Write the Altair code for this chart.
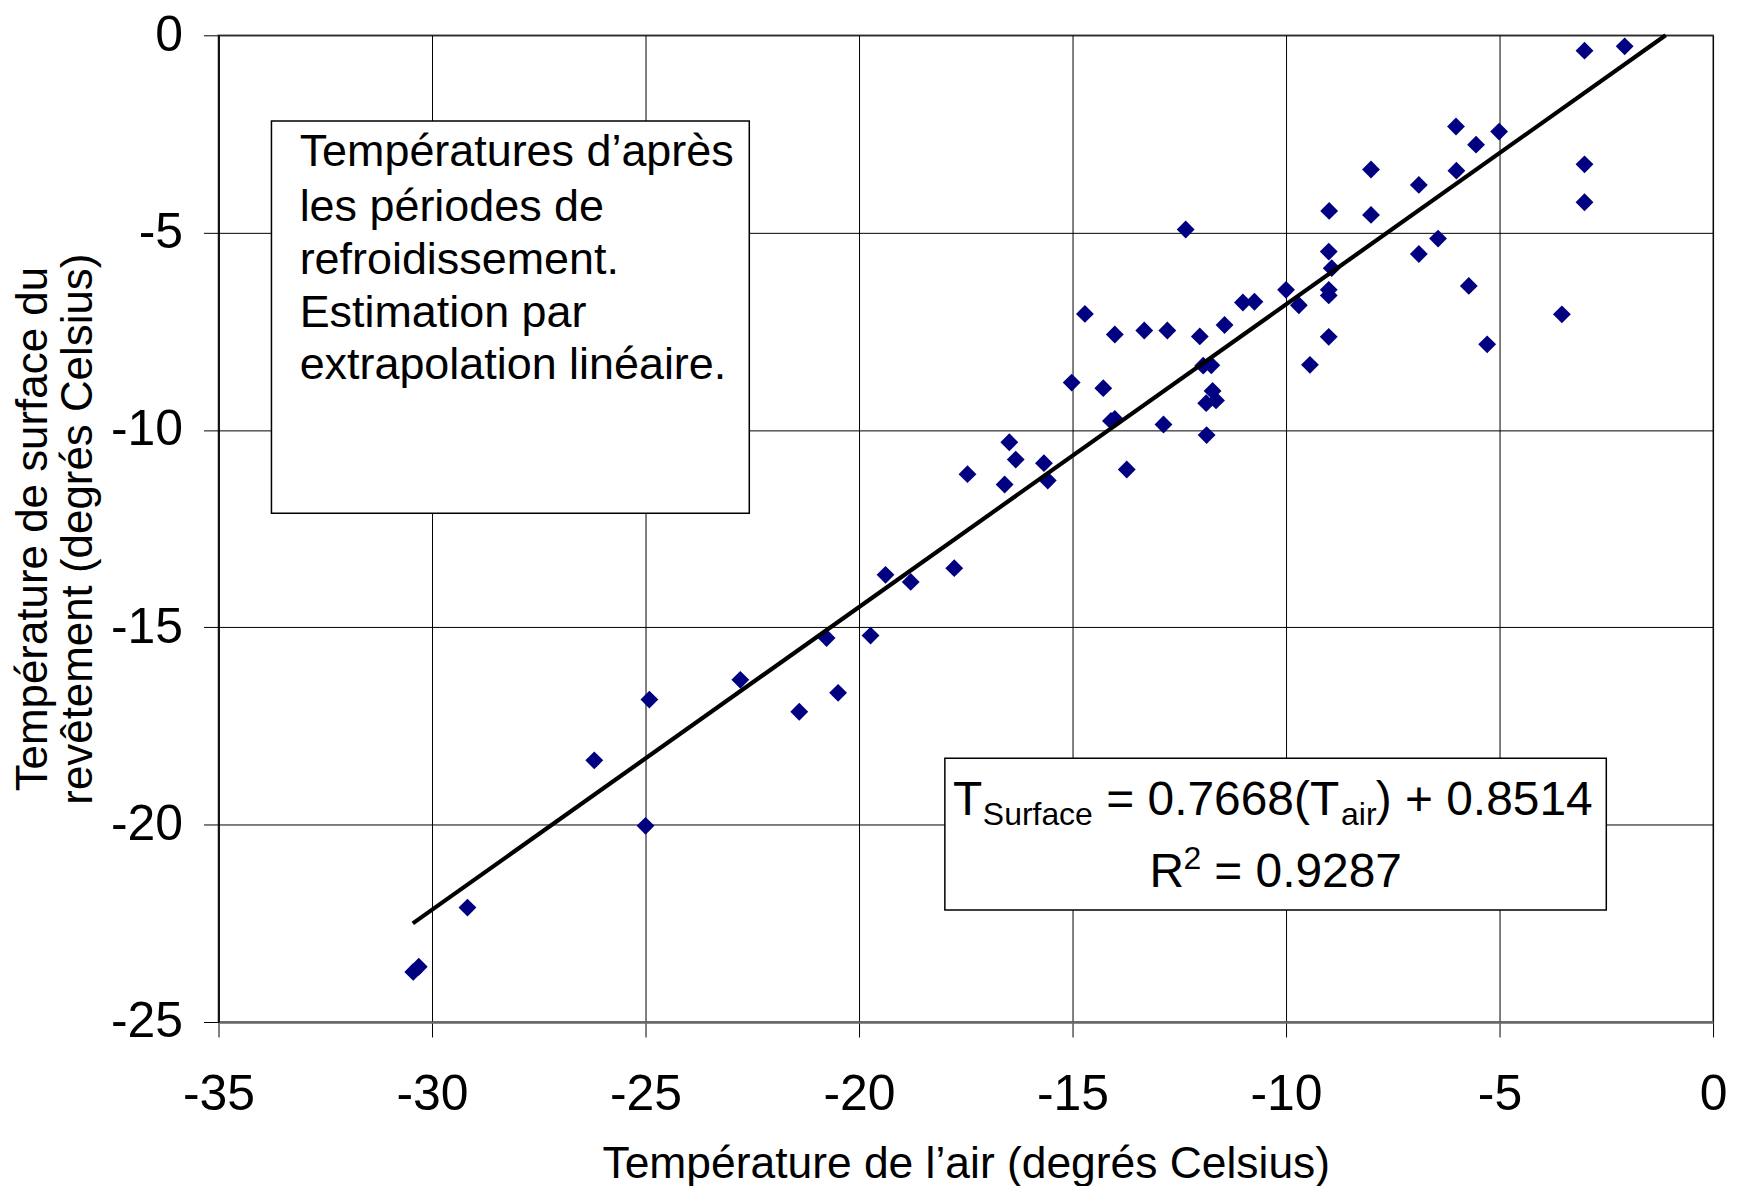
import altair as alt
import pandas as pd

# ---- data ----
air_temp = [-2.07, -3.01, -6.02, -5.01, -5.55, -3.01, -8.01, -6.01, -6.89, -3.01,
            -8.99, -8.01, -12.35, -6.44, -9.00, -6.89, -8.93, -10.00, -9.00, -9.00,
            -5.72, -10.74, -11.01, -9.70, -14.71, -3.54, -11.44, -13.32, -12.78, -14.01,
            -12.02, -9.00, -5.29, -11.94, -11.75, -9.44, -15.02, -14.28, -11.72, -11.64,
            -11.87, -14.01, -14.10, -12.87, -11.86, -16.48, -16.33, -15.67, -13.73, -17.46,
            -15.58, -16.59, -17.77, -19.38, -18.79, -20.76, -19.73, -22.78, -24.91, -20.49,
            -21.40, -26.20, -25.00, -29.17, -30.31, -30.44]
surface_temp = [-0.28, -0.39, -2.31, -2.44, -2.77, -3.27, -3.40, -3.43, -3.79, -4.23,
                -4.45, -4.55, -4.92, -5.15, -5.48, -5.54, -5.90, -6.45, -6.45, -6.59,
                -6.35, -6.75, -6.77, -6.84, -7.06, -7.07, -7.34, -7.48, -7.48, -7.58,
                -7.63, -7.64, -7.83, -8.37, -8.36, -8.35, -8.80, -8.94, -9.01, -9.25,
                -9.32, -9.72, -9.77, -9.86, -10.13, -10.31, -10.75, -10.84, -11.00, -11.12,
                -11.28, -11.38, -13.50, -13.67, -13.85, -15.27, -15.21, -16.33, -16.83, -16.66,
                -17.14, -18.37, -20.03, -22.10, -23.60, -23.73]

trend_x = [-30.45, -1.11]
trend_y = [-22.50, 0.0]

x_ticks = [-35, -30, -25, -20, -15, -10, -5, 0]
y_ticks = [-25, -20, -15, -10, -5, 0]

note_lines = ["Températures d’après", "les périodes de", "refroidissement.",
              "Estimation par", "extrapolation linéaire."]

FONT = "Liberation Sans"

pts = pd.DataFrame({"air": air_temp, "surf": surface_temp})
trend = pd.DataFrame({"air": trend_x, "surf": trend_y})

xscale = alt.Scale(domain=[-35, 0], nice=False, zero=False)
yscale = alt.Scale(domain=[-25, 0], nice=False, zero=False)

x_axis = alt.Axis(values=x_ticks, title="Température de l’air (degrés Celsius)",
                  labelExpr="'' + datum.value",
                  grid=True, gridColor="#000000", gridWidth=1, gridOpacity=1,
                  tickSize=15, tickColor="#000000", tickWidth=1,
                  labelFontSize=50, labelPadding=33, labelFlush=False, labelOverlap=False,
                  titleFontSize=44.5, titlePadding=23,
                  domainColor="#666666", domainWidth=2.5)
y_axis = alt.Axis(values=y_ticks,
                  title=["Température de surface du", "revêtement (degrés Celsius)"],
                  labelExpr="'' + datum.value",
                  grid=True, gridColor="#000000", gridWidth=1, gridOpacity=1,
                  tickSize=15, tickColor="#000000", tickWidth=1,
                  labelFontSize=50, labelPadding=21, labelFlush=False, labelOverlap=False,
                  titleFontSize=44, titleLineHeight=45, titlePadding=10,
                  domainColor="#000000", domainWidth=1.5)

X = alt.X("air:Q", scale=xscale, axis=x_axis)
Y = alt.Y("surf:Q", scale=yscale, axis=y_axis)

points = alt.Chart(pts).mark_point(shape="diamond", filled=True, size=320,
                                   color="#000080", opacity=1).encode(x=X, y=Y)

line = alt.Chart(trend).mark_line(color="#000000", strokeWidth=4.2).encode(x=X, y=Y)

# annotation boxes (data coordinates)
boxes = pd.DataFrame({"air": [-33.76, -17.99], "air2": [-22.57, -2.50],
                      "surf": [-2.17, -18.32], "surf2": [-12.11, -22.16]})
box_layer = alt.Chart(boxes).mark_rect(fill="#ffffff", stroke="#000000",
                                       strokeWidth=1.5).encode(
    x=X, x2="air2:Q", y=Y, y2="surf2:Q",
)

note_df = pd.DataFrame({"air": [-33.1] * 5,
                        "surf": [-3.32, -4.70, -6.04, -7.38, -8.71],
                        "t": note_lines})
note = alt.Chart(note_df).mark_text(align="left", baseline="alphabetic", font=FONT,
                                    fontSize=45, color="#000000").encode(
    x=X, y=Y, text="t:N",
)

eq_big = pd.DataFrame({"air": [-17.80, -14.21, -7.90, -13.20, -11.68],
                       "surf": [-19.75, -19.75, -19.75, -21.58, -21.58],
                       "t": ["T", "= 0.7668(T", ") + 0.8514", "R", "= 0.9287"]})
eq_small = pd.DataFrame({"air": [-17.10, -8.71, -12.40],
                         "surf": [-20.0, -20.0, -21.13],
                         "t": ["Surface", "air", "2"]})
eq1 = alt.Chart(eq_big).mark_text(align="left", baseline="alphabetic", font=FONT,
                                  fontSize=48, color="#000000").encode(
    x=X, y=Y, text="t:N",
)
eq2 = alt.Chart(eq_small).mark_text(align="left", baseline="alphabetic", font=FONT,
                                    fontSize=32, color="#000000").encode(
    x=X, y=Y, text="t:N",
)

chart = alt.layer(box_layer, note, eq1, eq2, points, line).properties(
    width=1498, height=989,
    autosize=alt.AutoSizeParams(type="none"),
    padding={"left": 211, "top": 26, "right": 22, "bottom": 163},
    background="#ffffff",
).configure_view(stroke="#888888", strokeWidth=2).configure_axis(
    labelFont=FONT, titleFont=FONT, labelColor="#000000", titleColor="#000000",
    titleFontWeight="normal",
)

chart.save("out.html", embed_options={"renderer": "svg", "actions": False})
